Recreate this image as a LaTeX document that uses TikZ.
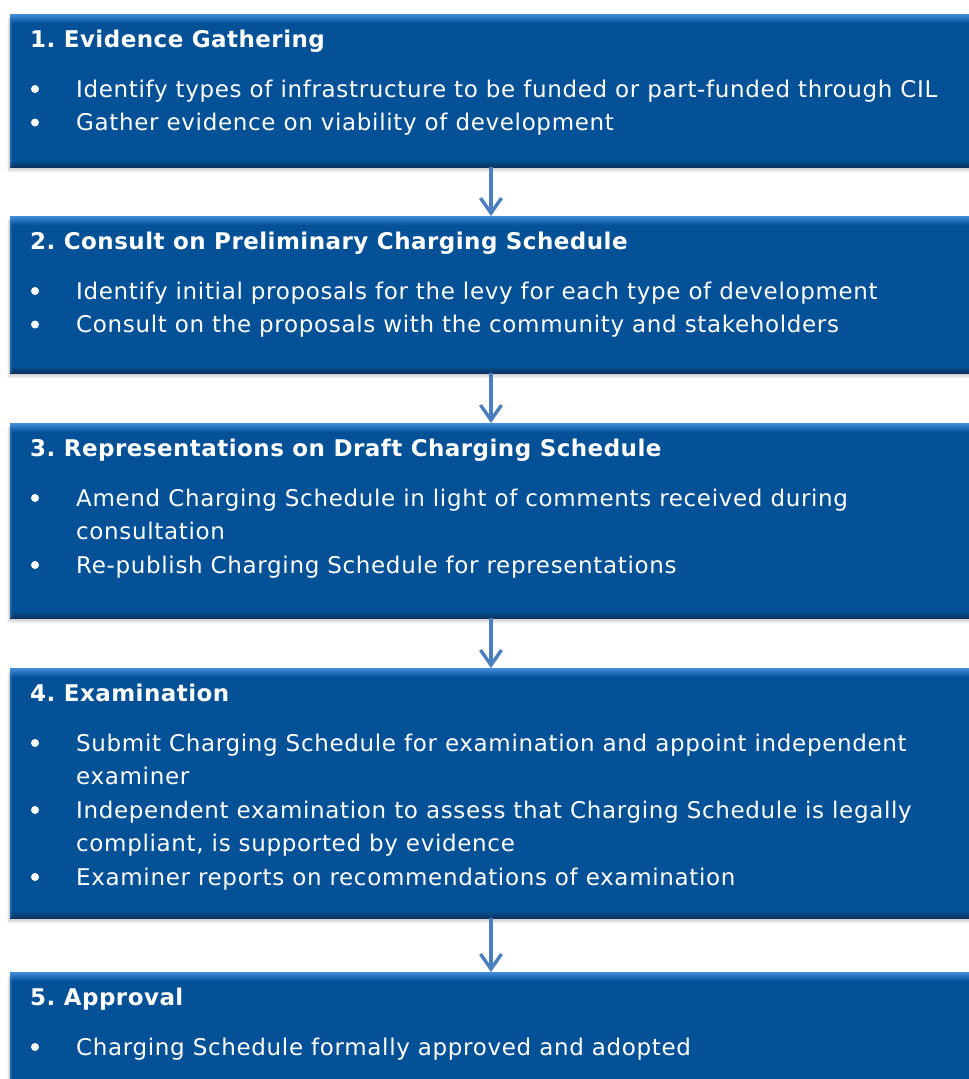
\documentclass[tikz,border=0pt]{standalone}
\usepackage{fontspec}
\setmainfont{DejaVu Sans}
\newfontfamily\bodyfont[LetterSpace=2.9]{DejaVu Sans}
\newfontfamily\headfont[LetterSpace=2.0]{DejaVu Sans Bold}
\usetikzlibrary{arrows.meta}
\definecolor{boxblue}{RGB}{5,81,151}
\definecolor{bevtop}{RGB}{66,140,218}
\definecolor{bevbot}{RGB}{12,52,96}
\definecolor{arrblue}{RGB}{74,126,190}
\frenchspacing
\tikzset{
  stagebox/.style={rectangle, inner sep=0pt, outer sep=0pt, fill=boxblue, anchor=north west, minimum width=962pt},
  head/.style={anchor=base west, inner sep=0pt, text=white, font=\fontsize{23}{27}\selectfont\headfont},
  item/.style={anchor=base west, inner sep=0pt, text=white, font=\fontsize{23}{27}\selectfont\bodyfont},
  bul/.style={circle, fill=white, inner sep=0pt, minimum size=8pt},
  flow/.style={draw=arrblue, line width=3.4pt, -{Straight Barb[length=15pt,width=21pt,line width=3.4pt]}},
}
\newcommand\mkstage[3]{% name, top, height
  \foreach \k in {1,...,6}{
    \fill[black, opacity=0.035] (10-0.5*\k, #2+1+0.6*\k) rectangle (975, #2+#3+0.9*\k);
  }
  \node[stagebox, minimum height=#3 pt] (#1) at (10,#2) {};
  \shade[top color=bevtop, bottom color=boxblue] (#1.north west) rectangle ([yshift=-9pt]#1.north east);
  \shade[top color=boxblue, bottom color=bevbot] ([yshift=7pt]#1.south west) rectangle (#1.south east);
  \fill[bevtop, opacity=0.35] (#1.north west) rectangle ([xshift=2pt]#1.south west);
}
\begin{document}
\begin{tikzpicture}[x=1pt, y=-1pt]
\useasboundingbox (0,0) rectangle (969,1079);
\clip (0,0) rectangle (969,1079);
\fill[white] (0,0) rectangle (969,1079);

\mkstage{b1}{14}{153}
\mkstage{b2}{216}{157}
\mkstage{b3}{423}{195}
\mkstage{b4}{668}{250}
\mkstage{b5}{972}{140}

% box 1
\node[head] (h1) at (30,47) {1. Evidence Gathering};
\node[bul] (p11) at (35,89) {};
\node[item] (t11) at (76,97) {Identify types of infrastructure to be funded or part-funded through CIL};
\node[bul] (p12) at (35,122.5) {};
\node[item] (t12) at (76,130.5) {Gather evidence on viability of development};

% box 2
\node[head] (h2) at (30,249) {2. Consult on Preliminary Charging Schedule};
\node[bul] (p21) at (35,291) {};
\node[item] (t21) at (76,299) {Identify initial proposals for the levy for each type of development};
\node[bul] (p22) at (35,324.5) {};
\node[item] (t22) at (76,332.5) {Consult on the proposals with the community and stakeholders};

% box 3
\node[head] (h3) at (30,456) {3. Representations on Draft Charging Schedule};
\node[bul] (p31) at (35,498) {};
\node[item] (t31) at (76,506) {Amend Charging Schedule in light of comments received during};
\node[item] (t31b) at (76,539.5) {consultation};
\node[bul] (p32) at (35,565) {};
\node[item] (t32) at (76,573) {Re-publish Charging Schedule for representations};

% box 4
\node[head] (h4) at (30,701) {4. Examination};
\node[bul] (p41) at (35,743) {};
\node[item] (t41) at (76,751) {Submit Charging Schedule for examination and appoint independent};
\node[item] (t41b) at (76,784.5) {examiner};
\node[bul] (p42) at (35,810) {};
\node[item] (t42) at (76,818) {Independent examination to assess that Charging Schedule is legally};
\node[item] (t42b) at (76,851.5) {compliant, is supported by evidence};
\node[bul] (p43) at (35,877) {};
\node[item] (t43) at (76,885) {Examiner reports on recommendations of examination};

% box 5
\node[head] (h5) at (30,1005) {5. Approval};
\node[bul] (p51) at (35,1047) {};
\node[item] (t51) at (76,1055) {Charging Schedule formally approved and adopted};

% connectors
\draw[flow] (b1.south) -- (b2.north);
\draw[flow] (b2.south) -- (b3.north);
\draw[flow] (b3.south) -- (b4.north);
\draw[flow] (b4.south) -- (b5.north);
\end{tikzpicture}
\end{document}
